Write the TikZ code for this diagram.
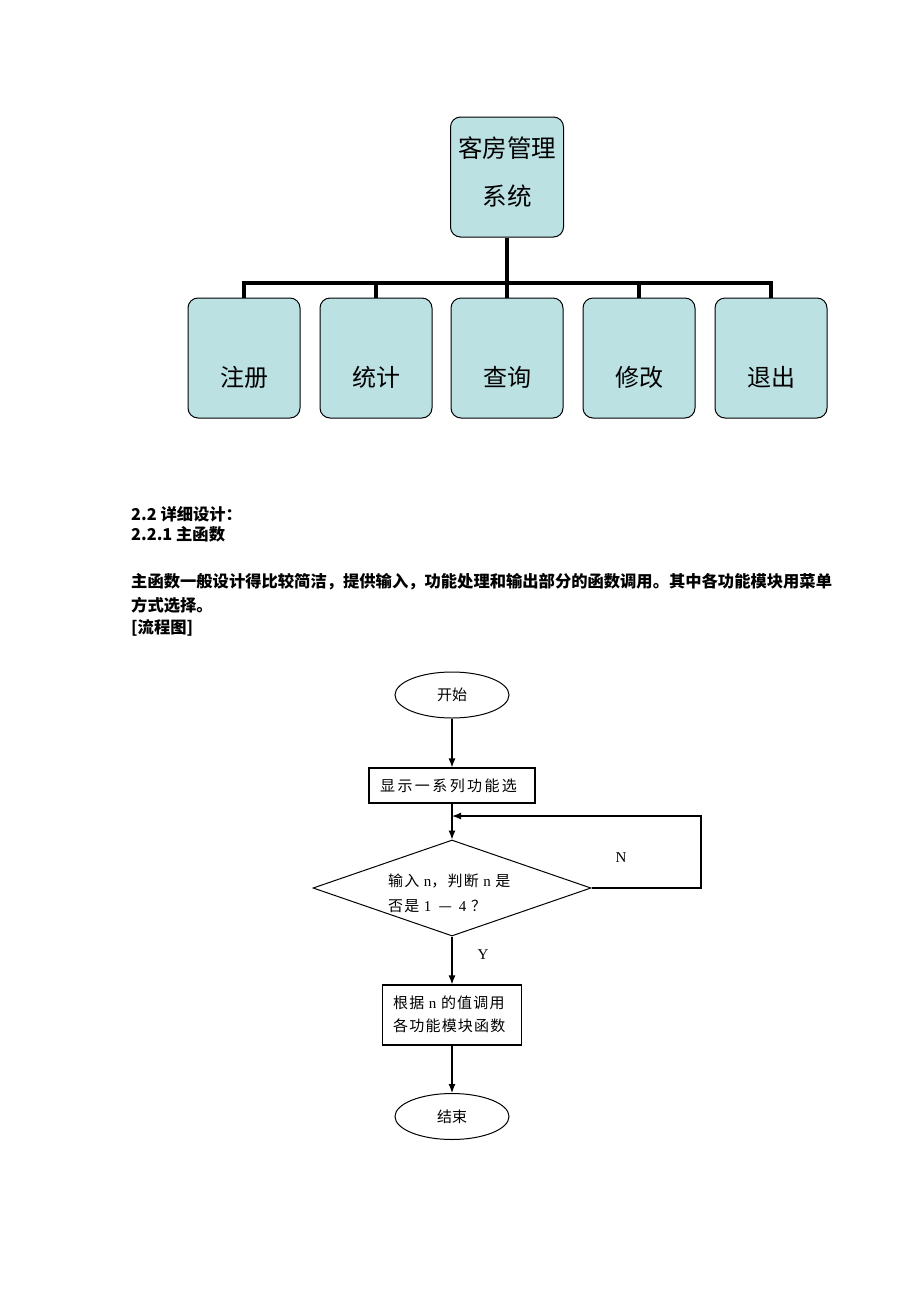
\documentclass[tikz,border=0pt]{standalone}
\usepackage{fontspec}
\setmainfont{Noto Sans CJK SC}
\newfontfamily\lat{Liberation Serif}
\newfontfamily\cjksp[LetterSpace=16]{Noto Sans CJK SC}
\newfontfamily\cjkspb[LetterSpace=8]{Noto Sans CJK SC}
\usetikzlibrary{arrows.meta,shapes.geometric}
\definecolor{teal1}{HTML}{BCE1E3}
\tikzset{
  mod/.style={draw=black, line width=1pt, fill=teal1, rounded corners=10pt, minimum width=112pt, minimum height=120pt, inner sep=0pt},
  modt/.style={inner sep=0pt, font=\fontsize{24}{30}\selectfont},
  tree/.style={line width=3.2pt},
  term/.style={draw, ellipse, line width=1pt, minimum width=114pt, minimum height=46pt, inner sep=0pt, font=\fontsize{15}{18}\selectfont},
  proc/.style={draw, line width=1.2pt, inner sep=0pt},
  flow/.style={line width=1.2pt, -{Latex[length=9pt,width=7pt]}},
  txt/.style={anchor=west, inner sep=0pt, font=\fontsize{15}{18}\cjkspb},
  body/.style={anchor=west, inner sep=0pt, font=\fontsize{16.3}{20}\selectfont\bfseries},
}
\begin{document}
\begin{tikzpicture}[x=1pt,y=-1pt]
\useasboundingbox (0,0) rectangle (920,1302);
% top chart
\node[mod, minimum width=113pt] (root) at (507,177) {};
\node[modt, font=\fontsize{24.5}{30}\selectfont] (rt1) at (507,148) {客房管理};
\node[modt, font=\fontsize{24.5}{30}\selectfont] (rt2) at (507,196) {系统};
\node[mod] (c1) at (244,358) {};
\node[mod] (c2) at (376,358) {};
\node[mod] (c3) at (507,358) {};
\node[mod] (c4) at (639,358) {};
\node[mod] (c5) at (771,358) {};
\node[modt] (t1) at (244,377) {注册};
\node[modt] (t2) at (376,377) {统计};
\node[modt] (t3) at (507,377) {查询};
\node[modt] (t4) at (639,377) {修改};
\node[modt] (t5) at (771,377) {退出};
\coordinate (bus) at (507,283);
\draw[tree] (root.south) -- (bus);
\draw[tree, line cap=rect] (c1.north |- bus) -- (c5.north |- bus);
\foreach \c in {c1,c2,c3,c4,c5} \draw[tree] (\c.north |- bus) -- (\c.north);
% text
\node[body] (h1) at (131,514) {2.2 详细设计：};
\node[body] (h2) at (131,534) {2.2.1 主函数};
\node[body] (p1) at (131,582) {主函数一般设计得比较简洁，提供输入，功能处理和输出部分的函数调用。其中各功能模块用菜单};
\node[body] (p2) at (131,605) {方式选择。};
\node[body] (p3) at (131,628) {[流程图]};
% flowchart
\node[term] (start) at (452,695) {开始};
\node[proc, minimum width=166pt, minimum height=35pt] (show) at (452,785.5) {};
\node[txt, font=\fontsize{15}{18}\cjksp] (showt) at (380,786) {显示一系列功能选};
\node[draw, diamond, line width=1pt, minimum width=278pt, minimum height=96pt, inner sep=0pt, aspect=2.9] (dec) at (452,888) {};
\node[txt] (d1) at (388,881) {输入 {\lat n}，判断 {\lat n} 是};
\node[txt] (d2) at (388,906) {否是 {\lat 1}\, — \,{\lat 4} ？};
\node[proc, minimum width=139pt, minimum height=60pt] (call) at (452,1015) {};
\node[txt] (c1t) at (393,1003) {根据 {\lat n} 的值调用};
\node[txt] (c2t) at (393,1026) {各功能模块函数};
\node[term] (end) at (452,1116.5) {结束};
\node[inner sep=0pt, font=\fontsize{15}{18}\lat] (N) at (621,858) {N};
\node[inner sep=0pt, font=\fontsize{15}{18}\lat] (Y) at (483,955) {Y};
\coordinate (loopR) at (701,816);
\coordinate (loopL) at (452,816);
\draw[flow] (start.south) -- (show.north);
\draw[flow] (show.south) -- (dec.north);
\draw[flow] (dec.east) -| (loopR) -- (loopL);
\draw[flow] (dec.south) -- (call.north);
\draw[flow] (call.south) -- (end.north);
\end{tikzpicture}
\end{document}
